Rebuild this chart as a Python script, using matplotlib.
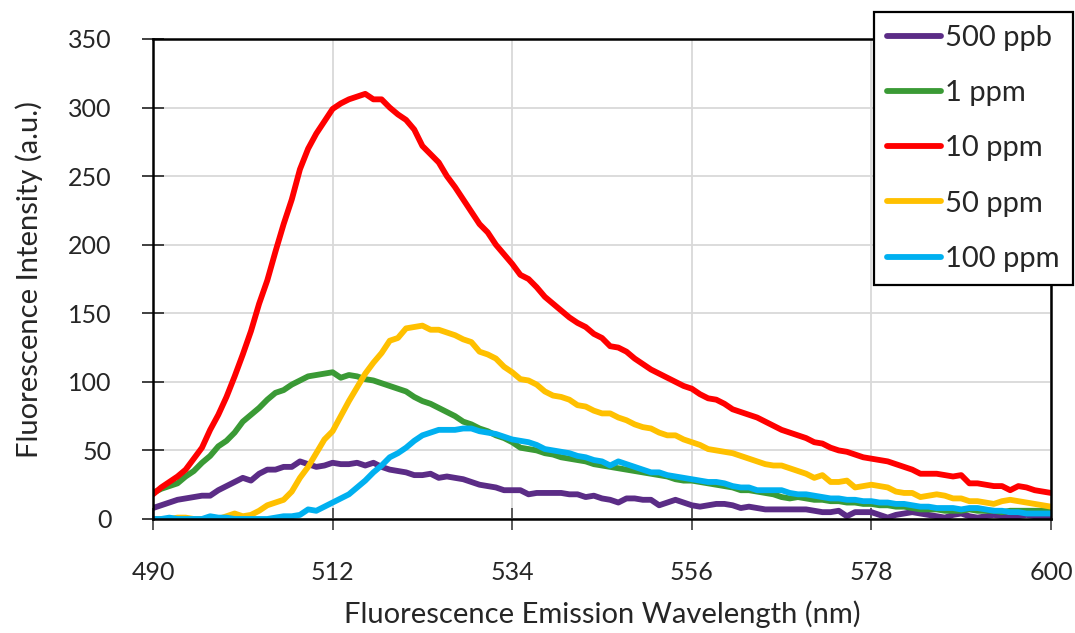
import numpy as np
import matplotlib
matplotlib.use("Agg")
import matplotlib.pyplot as plt

wavelength = list(range(490, 601))

ppb500 = [8, 10, 12, 14, 15, 16, 17, 17, 21, 24, 27, 30, 28, 33, 36, 36, 38, 38, 42, 40,
          38, 39, 41, 40, 40, 41, 39, 41, 38, 36, 35, 34, 32, 32, 33, 30, 31, 30, 29, 27,
          25, 24, 23, 21, 21, 21, 18, 19, 19, 19, 19, 18, 18, 16, 17, 15, 14, 12, 15, 15,
          14, 14, 10, 12, 14, 12, 10, 9, 10, 11, 11, 10, 8, 9, 8, 7, 7, 7, 7, 7,
          7, 6, 5, 5, 6, 2, 5, 5, 5, 3, 1, 3, 4, 5, 4, 3, 2, 1, 3, 4,
          2, 1, 2, 3, 2, 1, 2, 3, 2, 1, 1]

ppm1 = [19, 22, 24, 26, 31, 35, 41, 46, 53, 57, 63, 71, 76, 81, 87, 92, 94, 98, 101, 104,
        105, 106, 107, 103, 105, 104, 102, 101, 99, 97, 95, 93, 89, 86, 84, 81, 78, 75, 71, 69,
        66, 64, 61, 59, 56, 52, 51, 50, 48, 47, 45, 44, 43, 42, 40, 39, 38, 37, 36, 35,
        34, 33, 32, 31, 29, 28, 28, 27, 26, 25, 24, 23, 21, 21, 20, 19, 18, 16, 15, 16,
        15, 14, 14, 13, 13, 12, 12, 11, 11, 10, 10, 9, 9, 8, 7, 7, 7, 6, 6, 6,
        7, 6, 6, 6, 5, 6, 6, 6, 6, 6, 6]

ppm10 = [18, 23, 27, 31, 36, 44, 52, 65, 76, 89, 104, 120, 137, 157, 174, 195, 215, 233, 255, 270,
         281, 290, 299, 303, 306, 308, 310, 306, 306, 300, 295, 291, 284, 272, 266, 260, 250, 242, 233, 224,
         215, 209, 200, 193, 186, 178, 175, 169, 162, 157, 152, 147, 143, 140, 135, 132, 126, 125, 122, 117,
         113, 109, 106, 103, 100, 97, 95, 91, 88, 87, 84, 80, 78, 76, 74, 71, 68, 65, 63, 61,
         59, 56, 55, 52, 50, 49, 47, 45, 44, 43, 42, 40, 38, 36, 33, 33, 33, 32, 31, 32,
         26, 26, 25, 24, 24, 21, 24, 23, 21, 20, 19]

ppm50 = [0, 0, 0, 1, 1, 0, 0, 0, 0, 2, 4, 2, 3, 6, 10, 12, 14, 20, 30, 38,
         48, 58, 64, 75, 86, 96, 106, 114, 121, 130, 132, 139, 140, 141, 138, 138, 136, 134, 131, 129,
         122, 120, 117, 111, 107, 102, 101, 98, 93, 90, 89, 87, 83, 82, 79, 77, 77, 74, 72, 69,
         67, 66, 63, 61, 61, 58, 56, 54, 51, 50, 49, 48, 46, 44, 42, 40, 39, 39, 37, 35,
         33, 30, 32, 27, 27, 28, 23, 24, 25, 24, 23, 20, 19, 19, 16, 17, 18, 17, 15, 15,
         13, 13, 12, 11, 13, 14, 13, 12, 11, 10, 9]

ppm100 = [0, 0, 1, 0, 0, 0, 0, 2, 1, 1, 0, 0, 0, 0, 0, 1, 2, 2, 3, 7,
          6, 9, 12, 15, 18, 23, 28, 34, 39, 45, 48, 52, 57, 61, 63, 65, 65, 65, 66, 66,
          64, 63, 62, 60, 58, 57, 56, 54, 51, 50, 49, 48, 46, 45, 43, 42, 39, 42, 40, 38,
          36, 34, 34, 32, 31, 30, 29, 28, 27, 27, 26, 24, 23, 23, 21, 21, 21, 21, 19, 18,
          18, 17, 16, 15, 15, 14, 14, 13, 13, 12, 12, 11, 11, 10, 9, 9, 8, 8, 8, 7,
          8, 8, 7, 6, 6, 5, 5, 4, 4, 4, 4]

series_labels = ["500 ppb", "1 ppm", "10 ppm", "50 ppm", "100 ppm"]
series_values = [ppb500, ppm1, ppm10, ppm50, ppm100]
series_colors = ["#5b2c86", "#3a9a35", "#ff0000", "#ffc000", "#00b0f0"]

x_ticks = [490, 512, 534, 556, 578, 600]
y_ticks = [0, 50, 100, 150, 200, 250, 300, 350]

plt.rcParams['font.family'] = ['Lato', 'DejaVu Sans']
text_color = '#262626'

W, H = 1075, 633
fig = plt.figure(figsize=(W / 100, H / 100), dpi=100)
ax = fig.add_axes([153 / W, 1 - 519 / H, (1051 - 153) / W, (519 - 39) / H])

lines = []
for vals, lab, col in zip(series_values, series_labels, series_colors):
    ln, = ax.plot(wavelength, vals, color=col, lw=4.2, label=lab,
                  solid_joinstyle='round', solid_capstyle='round', zorder=3)
    lines.append(ln)

ax.set_xlim(490, 600)
ax.set_ylim(0, 350)
ax.set_xticks(x_ticks)
ax.set_yticks(y_ticks)
ax.grid(True, color='#d9d9d9', lw=1.3, zorder=0)
ax.set_axisbelow(True)

for sp in ax.spines.values():
    sp.set_color('black')
    sp.set_linewidth(1.8)
    sp.set_zorder(4)

ax.tick_params(axis='x', direction='inout', length=16, width=1.2, colors='#404040',
               labelcolor=text_color, labelsize=18, pad=22)
ax.tick_params(axis='y', direction='inout', length=16, width=1.4, colors='#404040',
               labelcolor=text_color, labelsize=18, pad=22)

ax.set_xlabel("Fluorescence Emission Wavelength (nm)", fontsize=21, color=text_color, labelpad=12)
ax.set_ylabel("Fluorescence Intensity (a.u.)", fontsize=21, color=text_color, labelpad=18)

leg = fig.legend(handles=lines, labels=series_labels, loc='upper left',
                 bbox_to_anchor=(874 / W, 1 - 12 / H), frameon=True, fancybox=False,
                 edgecolor='black', framealpha=1, fontsize=21, handlelength=1.85,
                 handletextpad=0.15, labelspacing=1.0, borderpad=0.45, borderaxespad=0)
leg.get_frame().set_linewidth(1.6)
for t in leg.get_texts():
    t.set_color(text_color)

fig.savefig("out.png", dpi=100)
